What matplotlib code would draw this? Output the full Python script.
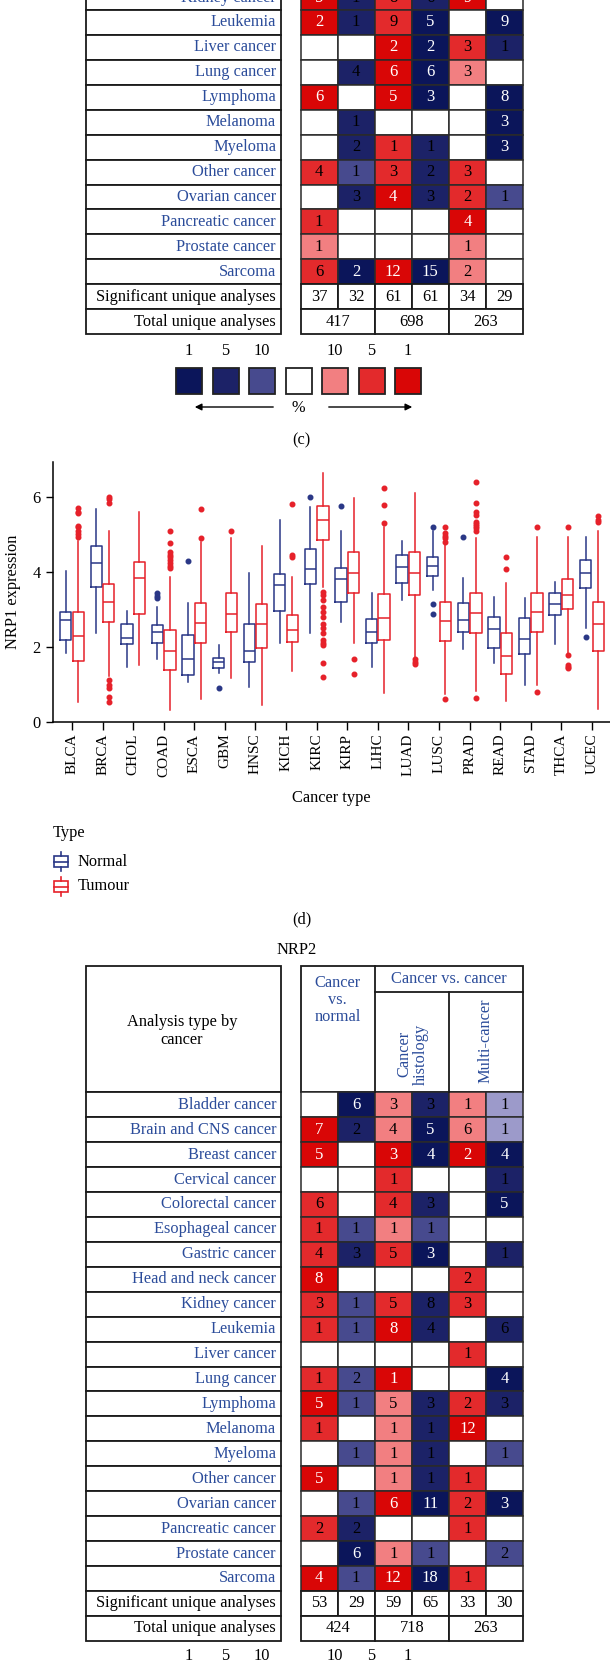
import matplotlib
matplotlib.use("Agg")
import matplotlib.pyplot as plt
from matplotlib.patches import Rectangle

plt.rcParams['font.family'] = ['Liberation Serif', 'DejaVu Serif']

# ---------------- data ----------------
# (c) NRP1 oncomine summary, only the lower rows are in frame
nrp1_cancers = ['Kidney cancer', 'Leukemia', 'Liver cancer', 'Lung cancer', 'Lymphoma',
                'Melanoma', 'Myeloma', 'Other cancer', 'Ovarian cancer',
                'Pancreatic cancer', 'Prostate cancer', 'Sarcoma']
nrp1_counts = [[5, 1, 8, 6, 9, 0],
               [2, 1, 9, 5, 0, 9],
               [0, 0, 2, 2, 3, 1],
               [0, 4, 6, 6, 3, 0],
               [6, 0, 5, 3, 0, 8],
               [0, 1, 0, 0, 0, 3],
               [0, 2, 1, 1, 0, 3],
               [4, 1, 3, 2, 3, 0],
               [0, 3, 4, 3, 2, 1],
               [1, 0, 0, 0, 4, 0],
               [1, 0, 0, 0, 1, 0],
               [6, 2, 12, 15, 2, 0]]
# rank level: +3/+2/+1 = top 1/5/10% up, negatives = down, -4 = beyond 10%
nrp1_levels = [[3, -2, 2, -2, 3, 0],
               [3, -2, 2, -3, 0, -3],
               [0, 0, 3, -3, 2, -2],
               [0, -2, 3, -3, 1, 0],
               [3, 0, 3, -3, 0, -3],
               [0, -2, 0, 0, 0, -3],
               [0, -2, 2, -2, 0, -3],
               [2, -1, 2, -2, 2, 0],
               [0, -2, 3, -2, 2, -1],
               [2, 0, 0, 0, 3, 0],
               [1, 0, 0, 0, 1, 0],
               [2, -3, 3, -3, 1, 0]]
nrp1_significant = [37, 32, 61, 61, 34, 29]
nrp1_total = [417, 698, 263]

# (e) NRP2 oncomine summary
nrp2_cancers = ['Bladder cancer', 'Brain and CNS cancer', 'Breast cancer', 'Cervical cancer',
                'Colorectal cancer', 'Esophageal cancer', 'Gastric cancer',
                'Head and neck cancer', 'Kidney cancer', 'Leukemia', 'Liver cancer',
                'Lung cancer', 'Lymphoma', 'Melanoma', 'Myeloma', 'Other cancer',
                'Ovarian cancer', 'Pancreatic cancer', 'Prostate cancer', 'Sarcoma']
nrp2_counts = [[0, 6, 3, 3, 1, 1],
               [7, 2, 4, 5, 6, 1],
               [5, 0, 3, 4, 2, 4],
               [0, 0, 1, 0, 0, 1],
               [6, 0, 4, 3, 0, 5],
               [1, 1, 1, 1, 0, 0],
               [4, 3, 5, 3, 0, 1],
               [8, 0, 0, 0, 2, 0],
               [3, 1, 5, 8, 3, 0],
               [1, 1, 8, 4, 0, 6],
               [0, 0, 0, 0, 1, 0],
               [1, 2, 1, 0, 0, 4],
               [5, 1, 5, 3, 2, 3],
               [1, 0, 1, 1, 12, 0],
               [0, 1, 1, 1, 0, 1],
               [5, 0, 1, 1, 1, 0],
               [0, 1, 6, 11, 2, 3],
               [2, 2, 0, 0, 1, 0],
               [0, 6, 1, 1, 0, 2],
               [4, 1, 12, 18, 1, 0]]
nrp2_levels = [[0, -3, 1, -2, 1, -4],
               [3, -2, 1, -3, 1, -4],
               [3, 0, 3, -3, 3, -3],
               [0, 0, 2, 0, 0, -2],
               [2, 0, 2, -2, 0, -3],
               [2, -1, 1, -1, 0, 0],
               [2, -2, 2, -3, 0, -2],
               [3, 0, 0, 0, 2, 0],
               [2, -1, 2, -2, 2, 0],
               [2, -1, 3, -2, 0, -2],
               [0, 0, 0, 0, 2, 0],
               [2, -1, 3, 0, 0, -3],
               [3, -1, 1, -2, 2, -2],
               [2, 0, 1, -2, 3, 0],
               [0, -1, 1, -2, 0, -1],
               [3, 0, 1, -2, 2, 0],
               [0, -1, 3, -3, 2, -3],
               [2, -2, 0, 0, 2, 0],
               [0, -3, 1, -1, 0, -1],
               [3, -1, 3, -3, 2, 0]]
nrp2_significant = [53, 29, 59, 65, 33, 30]
nrp2_total = [424, 718, 263]

scale_labels = ['1', '5', '10', '', '10', '5', '1']
scale_levels = [-3, -2, -1, 0, 1, 2, 3]

# (d) NRP1 expression boxplot stats
cancer_types = ['BLCA', 'BRCA', 'CHOL', 'COAD', 'ESCA', 'GBM', 'HNSC', 'KICH', 'KIRC',
                'KIRP', 'LIHC', 'LUAD', 'LUSC', 'PRAD', 'READ', 'STAD', 'THCA', 'UCEC']
normal_lo = [1.84, 2.36, 1.47, 1.66, 1.07, 1.30, 0.93, 2.10, 2.36, 2.67, 1.47, 3.24, 3.51, 1.93, 1.56, 0.99, 2.06, 2.51]
normal_q1 = [2.17, 3.60, 2.08, 2.10, 1.24, 1.42, 1.58, 2.96, 3.66, 3.18, 2.11, 3.71, 3.88, 2.38, 1.96, 1.80, 2.85, 3.57]
normal_med = [2.70, 4.22, 2.24, 2.40, 1.66, 1.60, 1.88, 3.64, 4.08, 3.81, 2.39, 4.12, 4.15, 2.71, 2.46, 2.20, 3.15, 3.97]
normal_q3 = [2.92, 4.69, 2.60, 2.57, 2.31, 1.69, 2.60, 3.94, 4.60, 4.09, 2.73, 4.43, 4.39, 3.16, 2.78, 2.76, 3.44, 4.31]
normal_hi = [4.02, 5.66, 2.96, 3.05, 3.16, 2.04, 3.96, 5.38, 5.71, 5.09, 3.44, 4.82, 5.07, 3.82, 3.33, 3.31, 3.72, 4.93]
normal_out = [[], [], [], [3.42, 3.36, 3.30], [4.29], [0.91], [], [], [6.0], [5.76], [], [],
              [5.18, 3.13, 2.87], [4.91], [], [], [], [2.27]]

tumour_lo = [0.52, 1.22, 1.51, 0.31, 0.60, 1.16, 0.44, 1.35, 3.60, 2.11, 0.76, 1.73, 0.75, 0.82, 0.55, 0.98, 1.82, 0.35]
tumour_q1 = [1.62, 2.67, 2.87, 1.38, 2.10, 2.38, 1.96, 2.13, 4.84, 3.44, 2.18, 3.38, 2.15, 2.37, 1.26, 2.40, 3.00, 1.88]
tumour_med = [2.28, 3.18, 3.82, 1.89, 2.62, 2.87, 2.60, 2.44, 5.38, 3.97, 2.76, 3.96, 2.69, 2.89, 1.76, 2.92, 3.39, 2.60]
tumour_q3 = [2.93, 3.67, 4.25, 2.44, 3.17, 3.44, 3.14, 2.84, 5.76, 4.52, 3.40, 4.53, 3.20, 3.44, 2.37, 3.42, 3.80, 3.18]
tumour_hi = [4.82, 5.09, 5.60, 3.87, 4.80, 4.89, 4.68, 3.87, 6.62, 5.97, 5.20, 6.09, 4.71, 4.89, 3.71, 4.92, 4.92, 5.07]
tumour_out = [[5.69, 5.60, 5.56, 5.22, 5.20, 5.07, 5.00, 4.93],
              [6.00, 5.93, 5.84, 1.11, 0.98, 0.91, 0.67, 0.53],
              [],
              [5.09, 4.77, 4.53, 4.44, 4.38, 4.31, 4.22, 4.15, 4.11],
              [5.66, 4.89],
              [5.07],
              [],
              [5.80, 4.44, 4.40],
              [3.47, 3.38, 3.24, 3.07, 2.93, 2.80, 2.60, 2.49, 2.36, 2.18, 2.11, 2.04, 1.56, 1.20],
              [1.66, 1.26],
              [6.22, 5.78, 5.29],
              [1.66, 1.60, 1.54],
              [5.20, 5.04, 4.96, 4.89, 4.80, 0.60],
              [6.38, 5.84, 5.58, 5.51, 5.33, 5.27, 5.22, 5.16, 5.09, 0.62],
              [4.40, 4.07],
              [5.20, 0.78],
              [5.20, 1.78, 1.51, 1.47, 1.42],
              [5.47, 5.38, 5.32]]

# ---------------- styling ----------------
W, H = 610, 1662
BLUE = '#2b4c9a'
NAVY = '#2a3786'
RED = '#e6212a'
LEVEL_COLORS = {-4: '#9c9aca', -3: '#0b155a', -2: '#1c2267', -1: '#474a8e', 0: 'white',
                1: '#f27f81', 2: '#e32a2c', 3: '#d90606'}
FS = 11.8
LBL_X0, LBL_X1 = 86, 281
GRID_X0, COL_W = 300.5, 37.1
ROW_H = 24.93


def draw_table(ax, top, cancers, counts, levels, significant, total):
    rows = list(cancers) + ['Significant unique analyses', 'Total unique analyses']
    for i, name in enumerate(rows):
        y = top + i * ROW_H
        ax.add_patch(Rectangle((LBL_X0, y), LBL_X1 - LBL_X0, ROW_H, fc='white', ec='#1a1a1a', lw=1.3))
        ax.text(LBL_X1 - 5, y + ROW_H / 2, name, ha='right', va='center', fontsize=FS,
                color=BLUE if i < len(cancers) else 'black')
    for i in range(len(cancers)):
        y = top + i * ROW_H
        for j in range(6):
            lv = levels[i][j]
            ax.add_patch(Rectangle((GRID_X0 + j * COL_W, y), COL_W, ROW_H,
                                   fc=LEVEL_COLORS[lv], ec='#2a2a2a', lw=1.1))
            if counts[i][j]:
                ax.text(GRID_X0 + (j + 0.5) * COL_W, y + ROW_H / 2, str(counts[i][j]),
                        ha='center', va='center', fontsize=12,
                        color='white' if abs(lv) == 3 else 'black')
    y = top + len(cancers) * ROW_H
    for j, v in enumerate(significant):
        ax.add_patch(Rectangle((GRID_X0 + j * COL_W, y), COL_W, ROW_H, fc='white', ec='#1a1a1a', lw=1.3))
        ax.text(GRID_X0 + (j + 0.5) * COL_W, y + ROW_H / 2, str(v), ha='center', va='center', fontsize=FS)
    y += ROW_H
    for k, v in enumerate(total):
        ax.add_patch(Rectangle((GRID_X0 + 2 * k * COL_W, y), 2 * COL_W, ROW_H, fc='white', ec='#1a1a1a', lw=1.3))
        ax.text(GRID_X0 + (2 * k + 1) * COL_W, y + ROW_H / 2, str(v), ha='center', va='center', fontsize=FS)


def draw_scale(ax, y):
    x0, step, size = 189, 36.5, 26
    for k, (lab, lv) in enumerate(zip(scale_labels, scale_levels)):
        xc = x0 + k * step
        ax.text(xc, y, lab, ha='center', va='center', fontsize=FS)
        ax.add_patch(Rectangle((xc - size / 2, y + 17), size, size, fc=LEVEL_COLORS[lv], ec='#222', lw=1.3))
    ya = y + 56
    ax.annotate('', xy=(192, ya), xytext=(276, ya),
                arrowprops=dict(arrowstyle='-|>', color='black', lw=1, mutation_scale=10))
    ax.annotate('', xy=(415, ya), xytext=(326, ya),
                arrowprops=dict(arrowstyle='-|>', color='black', lw=1, mutation_scale=10))
    ax.text(298.5, ya + 1, '%', ha='center', va='center', fontsize=FS)


fig = plt.figure(figsize=(W / 100, H / 100), dpi=100)
ov = fig.add_axes([0, 0, 1, 1])
ov.set_xlim(0, W)
ov.set_ylim(H, 0)
ov.axis('off')

# (c)
draw_table(ov, 10 - ROW_H, nrp1_cancers, nrp1_counts, nrp1_levels, nrp1_significant, nrp1_total)
draw_scale(ov, 351)
ov.text(301.5, 440, '(c)', ha='center', va='center', fontsize=FS)

# (d) legend
ov.text(53, 833, 'Type', ha='left', va='center', fontsize=FS)
for yc, col, name in [(861.5, NAVY, 'Normal'), (886.5, RED, 'Tumour')]:
    ov.add_patch(Rectangle((53.5, yc - 5.5), 14, 11, fc='none', ec=col, lw=1.2))
    ov.plot([53.5, 67.5], [yc, yc], color=col, lw=1.2)
    ov.plot([60.5, 60.5], [yc - 9.5, yc - 5.5], color=col, lw=1.2)
    ov.plot([60.5, 60.5], [yc + 5.5, yc + 9.5], color=col, lw=1.2)
    ov.text(78, yc, name, ha='left', va='center', fontsize=FS)
ov.text(301.5, 919, '(d)', ha='center', va='center', fontsize=FS)

# (e) NRP2 header
ov.text(297, 950, 'NRP2', ha='center', va='center', fontsize=FS)
hdr_top, hdr_bot = 965.7, 1092.3
ov.add_patch(Rectangle((LBL_X0, hdr_top), LBL_X1 - LBL_X0, hdr_bot - hdr_top, fc='white', ec='#1a1a1a', lw=1.3))
ov.text(182, 1031, 'Analysis type by\ncancer', ha='center', va='center', fontsize=FS, linespacing=1.15)
ov.add_patch(Rectangle((GRID_X0, hdr_top), 6 * COL_W, hdr_bot - hdr_top, fc='white', ec='#1a1a1a', lw=1.3))
x2, x4 = GRID_X0 + 2 * COL_W, GRID_X0 + 4 * COL_W
ov.plot([x2, x2], [hdr_top, hdr_bot], color='#1a1a1a', lw=1.3)
ov.plot([x2, GRID_X0 + 6 * COL_W], [991.7, 991.7], color='#1a1a1a', lw=1.3)
ov.plot([x4, x4], [991.7, hdr_bot], color='#1a1a1a', lw=1.3)
ov.text(GRID_X0 + COL_W, 1000, 'Cancer\nvs.\nnormal', ha='center', va='center', fontsize=FS,
        color=BLUE, linespacing=1.05)
ov.text(GRID_X0 + 4 * COL_W, 979, 'Cancer vs. cancer', ha='center', va='center', fontsize=FS, color=BLUE)
ov.text(GRID_X0 + 3 * COL_W + 1, 1054, 'Cancer\nhistology', rotation=90, ha='center', va='center',
        fontsize=FS, color=BLUE, linespacing=1.05)
ov.text(GRID_X0 + 5 * COL_W, 1041, 'Multi-cancer', rotation=90, ha='center', va='center',
        fontsize=FS, color=BLUE)
draw_table(ov, hdr_bot, nrp2_cancers, nrp2_counts, nrp2_levels, nrp2_significant, nrp2_total)
draw_scale(ov, 1656)

# (d) boxplot
ax_l, ax_r, ax_top, ax_bot = 53.3, W, 461.7, 721.7
ax = fig.add_axes([ax_l / W, (H - ax_bot) / H, (ax_r - ax_l) / W, (ax_bot - ax_top) / H])


def stats(lo, q1, med, q3, hi, out):
    return [dict(whislo=a, q1=b, med=c, q3=d, whishi=e, fliers=f)
            for a, b, c, d, e, f in zip(lo, q1, med, q3, hi, out)]


pos = list(range(1, len(cancer_types) + 1))
for st, off, col in [(stats(normal_lo, normal_q1, normal_med, normal_q3, normal_hi, normal_out), -0.205, NAVY),
                     (stats(tumour_lo, tumour_q1, tumour_med, tumour_q3, tumour_hi, tumour_out), 0.205, RED)]:
    ax.bxp(st, positions=[p + off for p in pos], widths=0.37, showcaps=False,
           boxprops=dict(color=col, lw=1.1), medianprops=dict(color=col, lw=1.1),
           whiskerprops=dict(color=col, lw=1.1),
           flierprops=dict(marker='o', markersize=3.3, markerfacecolor=col,
                           markeredgecolor=col, linestyle='none'))

ax.set_xlim(0.39, 18.59)
ax.set_ylim(0, 6.93)
ax.set_xticks(pos)
ax.set_xticklabels(cancer_types, rotation=90, fontsize=11)
ax.set_yticks([0, 2, 4, 6])
ax.tick_params(axis='y', labelsize=FS, length=5, width=1, pad=4)
ax.tick_params(axis='x', length=5.5, width=1, pad=3)
for s in ['top', 'right']:
    ax.spines[s].set_visible(False)
for s in ['left', 'bottom']:
    ax.spines[s].set_linewidth(1.1)
ax.set_xlabel('Cancer type', fontsize=FS)
ax.set_ylabel('NRP1 expression', fontsize=FS)
ax.xaxis.set_label_coords(0.5, -0.263)
ax.yaxis.set_label_coords(-0.058, 0.5)

fig.savefig('out.png', dpi=100)
